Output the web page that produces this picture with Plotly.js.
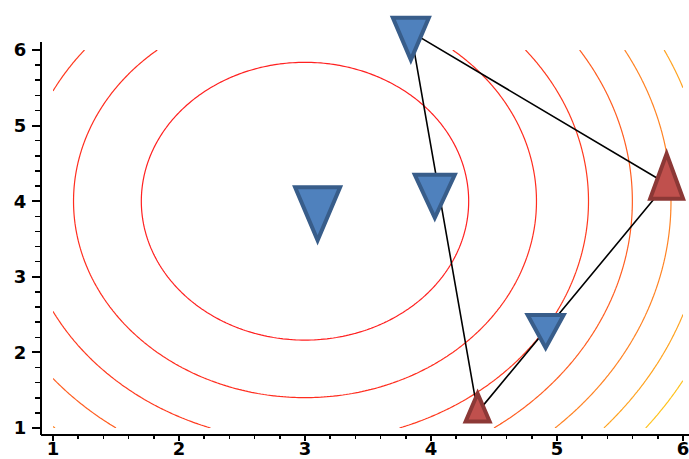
<!DOCTYPE html>
<html><head><meta charset="utf-8">
<script src="https://cdn.plot.ly/plotly-3.0.1.min.js"></script>
<style>html,body{margin:0;padding:0;background:#fff}#chart{width:689px;height:459px}</style>
</head><body><div id="chart"></div>
<script>
// ---- data ----
const xTicks = [1, 2, 3, 4, 5, 6];
const yTicks = [1, 2, 3, 4, 5, 6];
// contour field: f(x,y) = a*(x-cx)^2 + b*(y-cy)^2 over [1,6]x[1,6]
const fieldCenter = [3, 4];
const fieldWeights = [2, 1];
const fieldDomain = [1, 6];
const contourLevels = [3.375, 6.75, 10.125, 13.5, 16.875, 20.25, 23.625];
// blue (down) triangles
const blueX = [3.84, 4.03, 4.91, 3.10];
const blueY = [6.24, 4.16, 2.35, 3.95];
// red (up) triangles
const redX = [4.37, 5.87];
const redY = [1.21, 4.23];

// ---- styles ----
const blueSize = [[36, 42], [40, 43], [36, 33], [45, 53]]; // px width, height
const redSize = [[24, 28], [33, 45]];
const blueFill = '#4f81bd', blueEdge = '#385d8a';
const redFill = '#c0504d', redEdge = '#8c3836';
const levelColors = [[0, '#ff2020'], [0.34, '#ff3a1e'], [0.67, '#ff8424'], [1, '#ffc21c']];

// grid for contour field
const N = 201;
const gx = [], gy = [];
for (let i = 0; i < N; i++) {
  const t = fieldDomain[0] + (fieldDomain[1] - fieldDomain[0]) * i / (N - 1);
  gx.push(t); gy.push(t);
}
const z = gy.map(y => gx.map(x => fieldWeights[0] * (x - fieldCenter[0]) ** 2 + fieldWeights[1] * (y - fieldCenter[1]) ** 2));

const contour = {
  type: 'contour', x: gx, y: gy, z: z,
  autocontour: false,
  contours: {start: contourLevels[0], end: contourLevels[contourLevels.length - 1],
             size: contourLevels[1] - contourLevels[0], coloring: 'lines'},
  line: {width: 1.2, smoothing: 0},
  colorscale: levelColors,
  zmin: contourLevels[0], zmax: contourLevels[contourLevels.length - 1],
  showscale: false, hoverinfo: 'skip'
};

// black polygon joining blue[0] -> red[0] -> red[1] -> blue[0]
const polyX = [blueX[0], redX[0], redX[1], blueX[0]];
const polyY = [blueY[0], redY[0], redY[1], blueY[0]];
const poly = {type: 'scatter', mode: 'lines', x: polyX, y: polyY,
  line: {color: '#000', width: 1.6}, hoverinfo: 'skip'};

function tri(x, y, w, h, up, fill, edge) {
  const p = up
    ? `M${-w/2},${-h/3} L${w/2},${-h/3} L0,${2*h/3} Z`
    : `M${-w/2},${h/3} L${w/2},${h/3} L0,${-2*h/3} Z`;
  return {type: 'path', xref: 'x', yref: 'y', xsizemode: 'pixel', ysizemode: 'pixel',
    xanchor: x, yanchor: y, path: p, fillcolor: fill,
    line: {color: edge, width: 4}, layer: 'above'};
}
const shapes = [];
blueX.forEach((x, i) => shapes.push(tri(x, blueY[i], blueSize[i][0], blueSize[i][1], false, blueFill, blueEdge)));
redX.forEach((x, i) => shapes.push(tri(x, redY[i], redSize[i][0], redSize[i][1], true, redFill, redEdge)));
// axis lines (paper)
shapes.push({type: 'line', xref: 'paper', yref: 'paper', x0: 0, x1: 0, y0: 0, y1: 0.9034, line: {color: '#000', width: 2}, layer: 'above'});
shapes.push({type: 'line', xref: 'paper', yref: 'paper', x0: 0, x1: 1, y0: 0, y1: 0, line: {color: '#000', width: 2}, layer: 'above'});

const minorVals = [];
for (let k = 0; k <= 25; k++) { const v = 1 + k * 0.2; if (k % 5) minorVals.push(+v.toFixed(2)); }

const tickFont = {family: 'DejaVu Sans, Liberation Sans, sans-serif', size: 18, color: '#000', weight: 'bold'};
const layout = {
  width: 689, height: 459,
  margin: {l: 41, r: 0, t: 0, b: 24, pad: 0},
  paper_bgcolor: '#fff', plot_bgcolor: '#fff',
  showlegend: false,
  xaxis: {range: [1 - 12/126, 1 + 636/126], showgrid: false, zeroline: false, showline: false,
    tickmode: 'array', tickvals: xTicks, ticktext: xTicks.map(String),
    ticks: 'outside', ticklen: 5, tickwidth: 2, tickcolor: '#000', tickfont: tickFont,
    ticklabelstandoff: -8, ticklabeloverflow: 'allow',
    minor: {tickmode: 'array', tickvals: minorVals, ticks: 'outside', ticklen: 3, tickwidth: 1.5, tickcolor: '#000', showgrid: false},
    automargin: false, fixedrange: true},
  yaxis: {range: [1 - 7/75.6, 1 + 428/75.6], showgrid: false, zeroline: false, showline: false,
    tickmode: 'array', tickvals: yTicks, ticktext: yTicks.map(String),
    ticks: 'outside', ticklen: 8, tickwidth: 2, tickcolor: '#000', tickfont: tickFont,
    ticklabelstandoff: 2, ticklabeloverflow: 'allow',
    minor: {tickmode: 'array', tickvals: minorVals, ticks: 'outside', ticklen: 5, tickwidth: 1.5, tickcolor: '#000', showgrid: false},
    automargin: false, fixedrange: true},
  shapes: shapes
};
Plotly.newPlot('chart', [contour, poly], layout, {staticPlot: true});
</script></body></html>
